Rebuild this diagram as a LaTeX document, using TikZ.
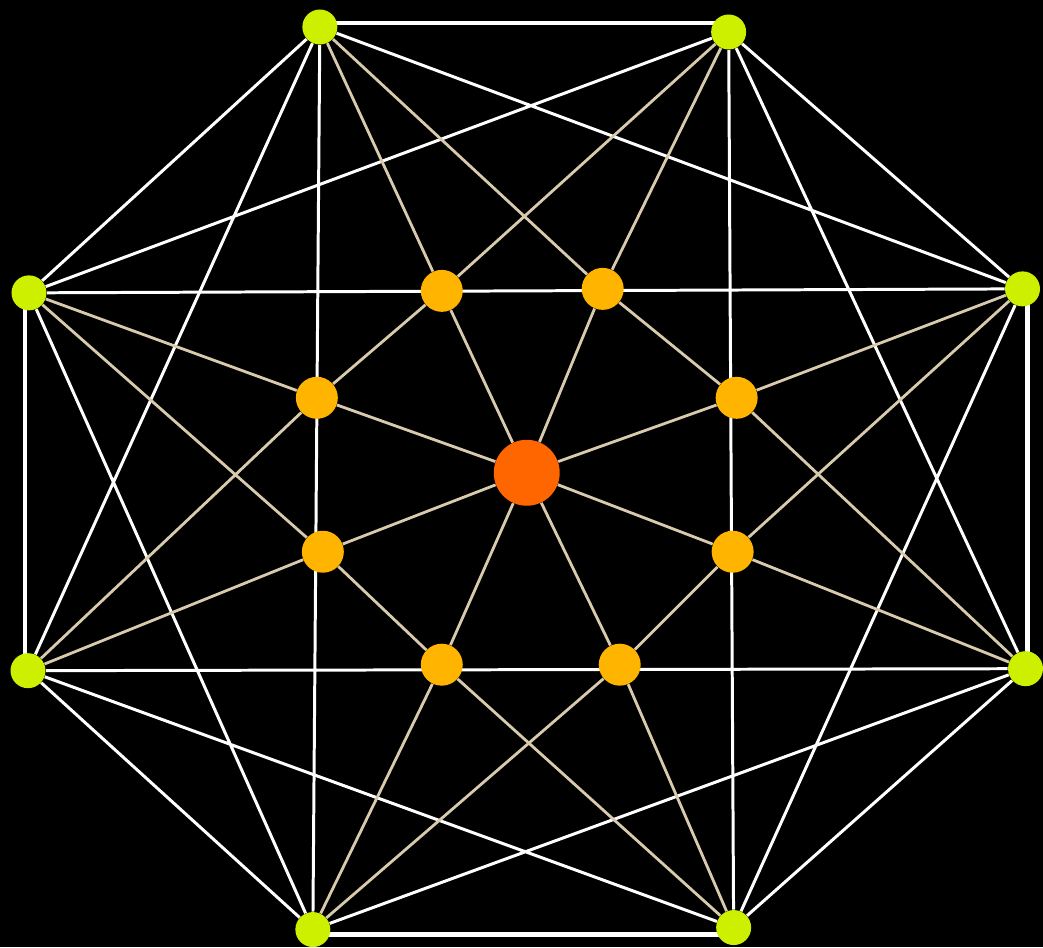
\documentclass[tikz,border=0pt]{standalone}
\usepackage{xcolor}
\usetikzlibrary{positioning}
\definecolor{limedot}{HTML}{CCF000}
\definecolor{amberdot}{HTML}{FFB400}
\definecolor{hubcol}{HTML}{FF6600}
\definecolor{tanline}{HTML}{D8CAAC}
\pgfdeclarelayer{bg}
\pgfdeclarelayer{edges}
\pgfsetlayers{bg,edges,main}

\begin{document}
\begin{tikzpicture}[x=0.02cm, y=-0.02cm,
    rimnode/.style={circle, fill=limedot, inner sep=0pt, minimum size=0.7cm},
    ringnode/.style={circle, fill=amberdot, inner sep=0pt, minimum size=0.84cm},
    hubnode/.style={circle, fill=hubcol, inner sep=0pt, minimum size=1.32cm},
    rimline/.style={white, line width=2.8pt},
    chord/.style={white, line width=1.7pt},
    spoke/.style={tanline, line width=1.6pt}]

    % outer ring
    \node[rimnode] (o1) at (320,27) {};
    \node[rimnode] (o2) at (729,32) {};
    \node[rimnode] (o3) at (1023,289) {};
    \node[rimnode] (o4) at (1026,669) {};
    \node[rimnode] (o5) at (734,928) {};
    \node[rimnode] (o6) at (313,930) {};
    \node[rimnode] (o7) at (28,671) {};
    \node[rimnode] (o8) at (29,293) {};

    % inner ring
    \node[ringnode] (i1) at (442,291) {};
    \node[ringnode] (i2) at (603,289) {};
    \node[ringnode] (i3) at (737,398) {};
    \node[ringnode] (i4) at (733,552) {};
    \node[ringnode] (i5) at (620,665) {};
    \node[ringnode] (i6) at (442,665) {};
    \node[ringnode] (i7) at (323,552) {};
    \node[ringnode] (i8) at (317,398) {};

    % centre
    \node[hubnode] (c) at (527,473) {};

    \begin{pgfonlayer}{bg}
        \fill[black] (0,0) rectangle (1043,947);
    \end{pgfonlayer}

    \begin{pgfonlayer}{edges}
        % white lines, the four straight sides sit a little outside
        \draw[rimline] ([yshift=0.08cm]o1.center) -- ([yshift=0.08cm]o1.center -| o2.center);
        \draw[rimline] ([xshift=0.1cm]o3.center) -- ([xshift=0.1cm]o3.center |- o4.center);
        \draw[rimline] ([yshift=-0.1cm]o6.center) -- ([yshift=-0.1cm]o6.center -| o5.center);
        \draw[rimline] ([xshift=-0.08cm]o8.center) -- ([xshift=-0.08cm]o8.center |- o7.center);
        \draw[chord] (o2) -- (o3) (o4) -- (o5) (o6) -- (o7) (o8) -- (o1);
        \draw[chord] (o1) -- (o3) (o2) -- (o4) (o3) -- (o5) (o4) -- (o6)
                     (o5) -- (o7) (o6) -- (o8) (o7) -- (o1) (o8) -- (o2);
        \draw[chord] (o1) -- (o6) (o2) -- (o5) (o3) -- (o8) (o4) -- (o7);

        % tan lines
        \draw[spoke] (o1) -- (i1) (o1) -- (i2) (o2) -- (i2) (o2) -- (i1)
                     (o3) -- (i3) (o3) -- (i4) (o4) -- (i4) (o4) -- (i3)
                     (o5) -- (i5) (o5) -- (i6) (o6) -- (i6) (o6) -- (i5)
                     (o7) -- (i7) (o7) -- (i8) (o8) -- (i8) (o8) -- (i7);
        \draw[spoke] (i2) -- (i3) (i1) -- (i8) (i4) -- (i5) (i6) -- (i7);
        \draw[spoke] (c) -- (i1) (c) -- (i2) (c) -- (i3) (c) -- (i4)
                     (c) -- (i5) (c) -- (i6) (c) -- (i7) (c) -- (i8);
    \end{pgfonlayer}
\end{tikzpicture}
\end{document}
